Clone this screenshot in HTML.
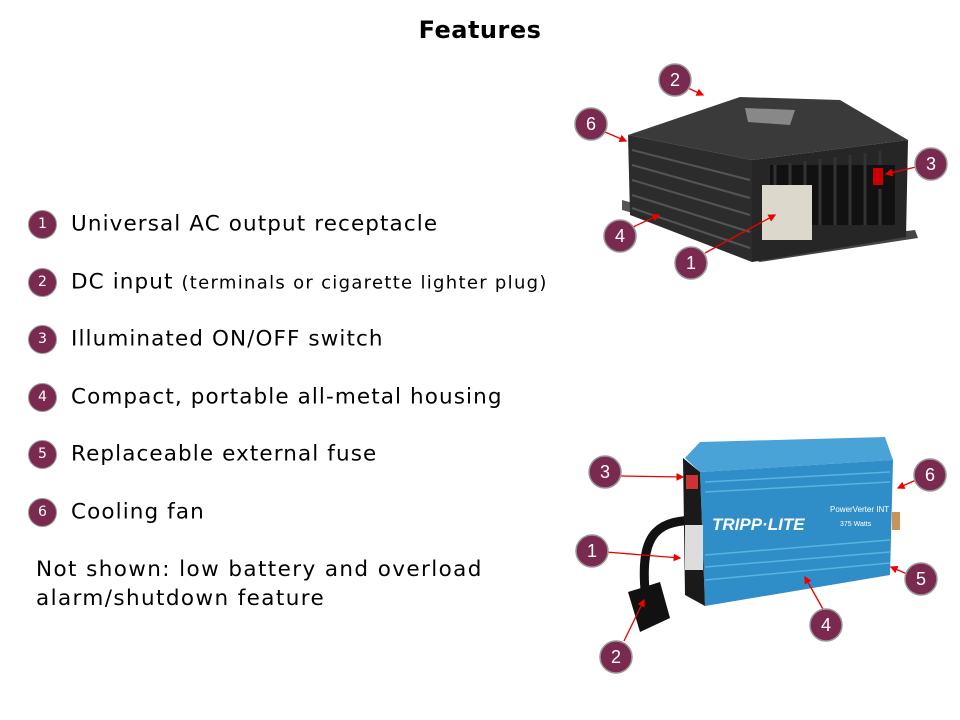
<!DOCTYPE html>
<html><head><meta charset="utf-8"><style>
body{margin:0;width:960px;height:720px;background:#fff;font-family:"DejaVu Sans","Liberation Sans",sans-serif;position:relative;overflow:hidden}
.t{position:absolute;left:0;width:960px;top:16px;text-align:center;font-weight:bold;font-size:24px;letter-spacing:0.5px}
.it{position:absolute;left:28px;font-size:21.5px;letter-spacing:1.1px;color:#000;white-space:nowrap}
.c{display:inline-block;width:29px;height:29px;border-radius:50%;background:#7b2a4f;border:1px solid #999;color:#fff;font-size:14px;letter-spacing:0;text-align:center;line-height:27px;vertical-align:middle;margin-right:14px;box-sizing:border-box}
.sm{font-size:18px;letter-spacing:1.3px}
</style></head><body>
<div class="t">Features</div>
<div class="it" style="top:210px"><span class="c">1</span>Universal AC output receptacle</div>
<div class="it" style="top:268px"><span class="c">2</span>DC input <span class="sm">(terminals or cigarette lighter plug)</span></div>
<div class="it" style="top:325px"><span class="c">3</span>Illuminated ON/OFF switch</div>
<div class="it" style="top:383px"><span class="c">4</span>Compact, portable all-metal housing</div>
<div class="it" style="top:440px"><span class="c">5</span>Replaceable external fuse</div>
<div class="it" style="top:498px"><span class="c">6</span>Cooling fan</div>
<div class="it" style="top:555px;left:36px;line-height:29px;letter-spacing:1.4px">Not shown: low battery and overload<br>alarm/shutdown feature</div>
<svg width="960" height="720" style="position:absolute;left:0;top:0">
<defs><marker id="a" markerWidth="6" markerHeight="6" refX="5" refY="3" orient="auto"><path d="M0,0L6,3L0,6z" fill="#e00"/></marker></defs>
<polygon points="622,200 640,205 640,215 622,210" fill="#555"/>
<polygon points="748,250 915,230 918,238 760,262 748,258" fill="#444"/>
<polygon points="628,135 740,97 840,100 908,140 752,160" fill="#3a3a3a"/>
<polygon points="628,135 752,160 752,262 630,215" fill="#2c2c2c"/>
<polygon points="752,160 908,140 906,237 752,262" fill="#262626"/>
<g stroke="#555" stroke-width="2">
<line x1="632" y1="150" x2="750" y2="180"/><line x1="632" y1="165" x2="750" y2="198"/><line x1="632" y1="180" x2="750" y2="215"/><line x1="632" y1="195" x2="750" y2="232"/><line x1="632" y1="208" x2="750" y2="248"/></g>
<g fill="#111"><rect x="770" y="165" width="125" height="60"/></g>
<g stroke="#333" stroke-width="3"><line x1="775" y1="165" x2="775" y2="225"/><line x1="790" y1="163" x2="790" y2="225"/><line x1="805" y1="161" x2="805" y2="225"/><line x1="820" y1="159" x2="820" y2="225"/><line x1="835" y1="157" x2="835" y2="225"/><line x1="850" y1="155" x2="850" y2="225"/><line x1="865" y1="153" x2="865" y2="225"/><line x1="880" y1="151" x2="880" y2="225"/></g>
<rect x="762" y="185" width="50" height="55" fill="#dcd8cc"/>
<rect x="869" y="165" width="18" height="24" fill="#111"/><rect x="873" y="168" width="10" height="17" fill="#c00"/>
<polygon points="745,108 795,110 790,125 748,122" fill="#888"/>
<path d="M700,520 C660,520 640,530 645,590" stroke="#111" stroke-width="9" fill="none"/>
<polygon points="628,592 660,582 670,618 640,632" fill="#111"/>
<polygon points="685,458 700,442 885,437 893,460 700,472" fill="#4aa3d6"/>
<polygon points="700,472 893,460 890,575 705,606" fill="#2f8ec8"/>
<polygon points="683,458 700,472 705,606 685,595" fill="#1a1a1a"/>
<rect x="685" y="525" width="18" height="45" fill="#ddd"/>
<rect x="686" y="475" width="12" height="14" fill="#c33"/>
<g stroke="#5ab3e0" stroke-width="1.5"><line x1="705" y1="482" x2="890" y2="472"/><line x1="705" y1="492" x2="890" y2="482"/><line x1="705" y1="555" x2="890" y2="540"/><line x1="705" y1="567" x2="890" y2="552"/><line x1="705" y1="580" x2="890" y2="563"/></g>
<text x="712" y="530" fill="#fff" font-size="17" font-weight="bold" font-style="italic" font-family="Liberation Sans">TRIPP·LITE</text>
<text x="830" y="512" fill="#fff" font-size="8" font-family="Liberation Sans">PowerVerter INT</text>
<text x="840" y="526" fill="#fff" font-size="7" font-family="Liberation Sans">375 Watts</text>
<rect x="892" y="512" width="8" height="18" fill="#c8945a"/>
<g stroke="#e00" stroke-width="1.3" marker-end="url(#a)">
<line x1="688" y1="88" x2="703" y2="95"/><line x1="605" y1="132" x2="626" y2="141"/><line x1="916" y1="167" x2="886" y2="174"/><line x1="633" y1="227" x2="659" y2="215"/><line x1="705" y1="253" x2="775" y2="215"/>
<line x1="621" y1="476" x2="683" y2="477"/><line x1="916" y1="480" x2="898" y2="488"/><line x1="606" y1="552" x2="680" y2="558"/><line x1="907" y1="574" x2="891" y2="567"/><line x1="824" y1="611" x2="805" y2="577"/><line x1="624" y1="641" x2="644" y2="600"/>
</g>
<g fill="#7b2a4f" stroke="#999" stroke-width="1.5">
<circle cx="675" cy="80" r="16"/><circle cx="591" cy="124" r="16"/><circle cx="931" cy="164" r="16"/><circle cx="620" cy="236" r="16"/><circle cx="691" cy="263" r="16"/>
<circle cx="605" cy="472" r="16"/><circle cx="930" cy="475" r="16"/><circle cx="592" cy="551" r="16"/><circle cx="921" cy="579" r="16"/><circle cx="826" cy="625" r="16"/><circle cx="616" cy="657" r="16"/>
</g>
<g fill="#fff" font-family="Liberation Sans" font-size="18" text-anchor="middle">
<text x="675" y="86">2</text><text x="591" y="130">6</text><text x="931" y="170">3</text><text x="620" y="242">4</text><text x="691" y="269">1</text>
<text x="605" y="478">3</text><text x="930" y="481">6</text><text x="592" y="557">1</text><text x="921" y="585">5</text><text x="826" y="631">4</text><text x="616" y="663">2</text>
</g>
</svg>
</body></html>
